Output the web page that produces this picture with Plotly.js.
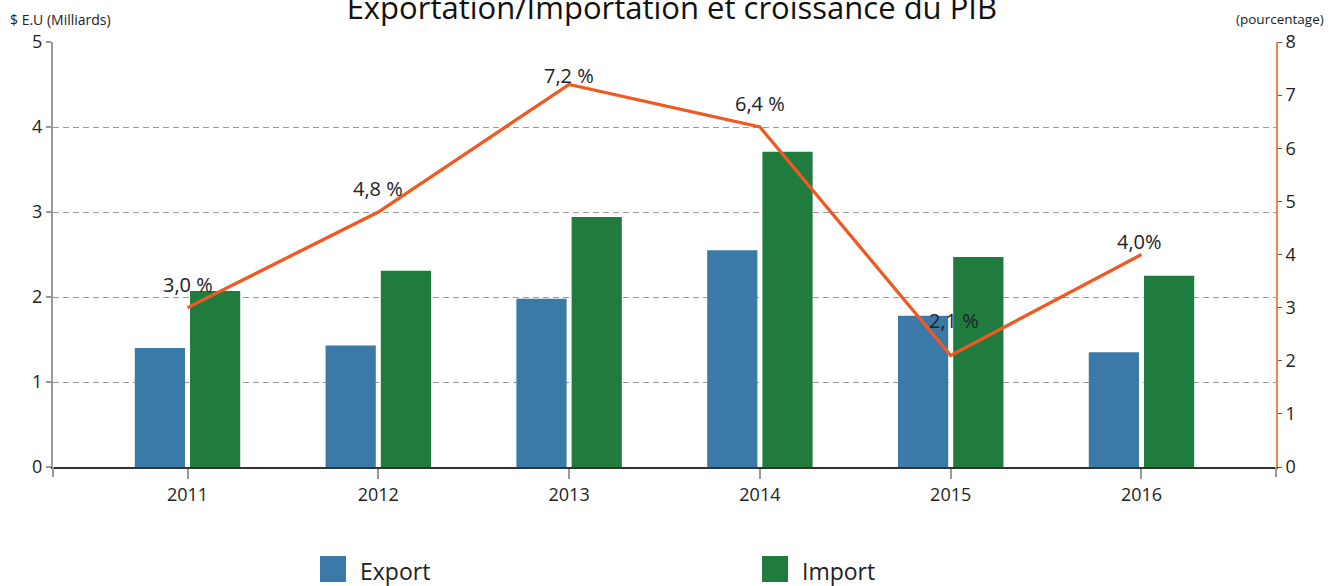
<!DOCTYPE html>
<html>
<head>
<meta charset="utf-8">
<script src="https://cdn.plot.ly/plotly-3.0.1.min.js"></script>
<style>html,body{margin:0;padding:0;background:#fff}#chart{width:1329px;height:586px}</style>
</head>
<body>
<div id="chart"></div>
<script>
// ---- data ----
var years = ['2011', '2012', '2013', '2014', '2015', '2016'];
var exportValues = [1.40, 1.43, 1.98, 2.55, 1.78, 1.35];
var importValues = [2.07, 2.31, 2.94, 3.71, 2.47, 2.25];
var gdpGrowth = [3.0, 4.8, 7.2, 6.4, 2.1, 4.0];
var gdpLabels = ['3,0 %', '4,8 %', '7,2 %', '6,4 %', '2,1 %', '4,0%'];
var leftTitle = '$ E.U (Milliards)';
var rightTitle = '(pourcentage)';
var chartTitle = 'Exportation/Importation et croissance du PIB';
var seriesNames = ['Export', 'Import'];

// ---- styles ----
var FONT = 'Open Sans, Noto Sans, sans-serif';
var TXT = '#222';
var C_EXP = '#3B7AA8';
var C_IMP = '#1F7B3E';
var C_LINE = '#F05A22';
var labelShiftY = [23, 24, 9, 24, 35, 13];
var labelShiftX = [0, 0, 0, 0, 3, -2];

var traces = [
  {type: 'bar', name: seriesNames[0], x: years, y: exportValues,
   marker: {color: C_EXP}, showlegend: false, hoverinfo: 'none'},
  {type: 'bar', name: seriesNames[1], x: years, y: importValues,
   marker: {color: C_IMP}, showlegend: false, hoverinfo: 'none'},
  {type: 'scatter', mode: 'lines', name: 'PIB', x: years, y: gdpGrowth, yaxis: 'y2',
   line: {color: C_LINE, width: 3.3}, showlegend: false, hoverinfo: 'none'}
];

// data labels: on a category axis, annotation x is the category's serial index
var annotations = gdpGrowth.map(function (v, i) {
  return {x: years.indexOf(years[i]), y: v, xref: 'x', yref: 'y2', text: gdpLabels[i], showarrow: false,
          xanchor: 'center', yanchor: 'middle', yshift: labelShiftY[i], xshift: labelShiftX[i],
          font: {family: FONT, size: 20, color: TXT}};
});

// axis captions
annotations.push({xref: 'paper', yref: 'paper', x: -0.037, y: 1.054, xanchor: 'left', yanchor: 'middle',
  text: leftTitle, showarrow: false, font: {family: FONT, size: 14, color: TXT}});
annotations.push({xref: 'paper', yref: 'paper', x: 1.0409, y: 1.054, xanchor: 'right', yanchor: 'middle',
  text: rightTitle, showarrow: false, font: {family: FONT, size: 13.5, color: TXT}});

// manual legend (large swatches)
function px2x(px) { return (px - 53) / 1223; }
function px2y(py) { return (467 - py) / 425; }
var legendItems = [
  {name: seriesNames[0], color: C_EXP, x0: 320},
  {name: seriesNames[1], color: C_IMP, x0: 762}
];
var shapes = [];
legendItems.forEach(function (it) {
  shapes.push({type: 'rect', xref: 'paper', yref: 'paper',
    x0: px2x(it.x0), x1: px2x(it.x0 + 26), y0: px2y(582), y1: px2y(556),
    fillcolor: it.color, line: {width: 0}});
  annotations.push({xref: 'paper', yref: 'paper', x: px2x(it.x0 + 38), y: px2y(571),
    xanchor: 'left', yanchor: 'middle', text: it.name, showarrow: false,
    font: {family: FONT, size: 23, color: TXT}});
});
// small edge ticks below the x axis at the plot borders
shapes.push({type: 'line', xref: 'paper', yref: 'paper', x0: 0, x1: 0, y0: 0, y1: px2y(477),
  line: {color: '#999', width: 2}});
shapes.push({type: 'line', xref: 'paper', yref: 'paper', x0: 1, x1: 1, y0: 0, y1: px2y(477),
  line: {color: '#999', width: 2}});

var layout = {
  width: 1329, height: 586,
  margin: {l: 53, r: 53, t: 42, b: 119, pad: 0},
  paper_bgcolor: '#fff', plot_bgcolor: '#fff',
  font: {family: FONT, color: TXT},
  title: {text: chartTitle, x: 0.506, xref: 'paper', xanchor: 'center', y: 0.986, yref: 'container', yanchor: 'middle',
          font: {family: FONT, size: 31, color: '#111'}},
  barmode: 'group', bargap: 0.421, bargroupgap: 0.091,
  xaxis: {type: 'category', range: [-0.705, 5.705], showgrid: false, zeroline: false,
          showline: true, linecolor: '#333', linewidth: 2,
          ticks: 'outside', ticklen: 10, tickwidth: 2, tickcolor: '#999',
          tickfont: {family: FONT, size: 18, color: TXT}, fixedrange: true},
  yaxis: {range: [0, 5], dtick: 1, tick0: 0, showgrid: true, gridcolor: '#9a9a9a', gridwidth: 1,
          griddash: '6px,4px', zeroline: false, showline: true, linecolor: '#999', linewidth: 2,
          ticks: 'outside', ticklen: 5, tickcolor: '#999', tickwidth: 2,
          tickfont: {family: FONT, size: 18, color: TXT}, fixedrange: true},
  yaxis2: {range: [0, 8], dtick: 1, tick0: 0, overlaying: 'y', side: 'right', showgrid: false,
           zeroline: false, showline: true, linecolor: '#EF8A3C', linewidth: 2,
           ticks: 'outside', ticklen: 4, tickcolor: '#555', tickwidth: 1,
           tickfont: {family: FONT, size: 18, color: TXT}, fixedrange: true},
  annotations: annotations,
  shapes: shapes,
  showlegend: false
};

Plotly.newPlot('chart', traces, layout, {displayModeBar: false, staticPlot: true});
</script>
</body>
</html>
